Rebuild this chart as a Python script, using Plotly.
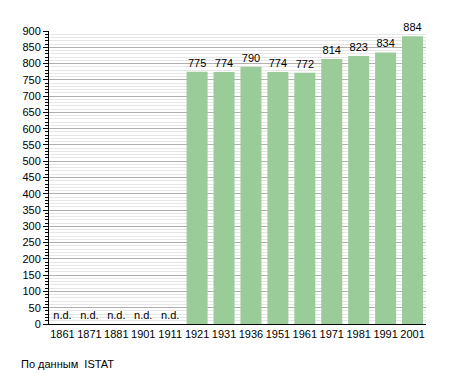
import plotly.graph_objects as go

years = ["1861", "1871", "1881", "1901", "1911", "1921", "1931", "1936",
         "1951", "1961", "1971", "1981", "1991", "2001"]
population = [None, None, None, None, None, 775, 774, 790, 774, 772, 814, 823, 834, 884]

y_vals = [v if v is not None else 0 for v in population]
labels = [str(v) if v is not None else "n.d." for v in population]

fig = go.Figure()
fig.add_trace(go.Bar(
    x=years, y=y_vals, text=labels, textposition="outside",
    marker=dict(color="#99cc99", line=dict(width=0)),
    textfont=dict(family="Liberation Sans, Arial", size=11, color="#000"),
    cliponaxis=False, hoverinfo="skip",
))

fig.update_layout(
    width=455, height=373,
    margin=dict(l=49, r=29, t=31, b=49),
    paper_bgcolor="white", plot_bgcolor="white",
    showlegend=False, bargap=0.22,
    font=dict(family="Liberation Sans, Arial", size=11, color="#000"),
    xaxis=dict(type="category", showline=True, linecolor="#000", linewidth=1,
               ticks="", showgrid=False, tickfont=dict(size=11)),
    yaxis=dict(range=[0, 900], dtick=50, showline=True, linecolor="#000", linewidth=1,
               ticks="outside", ticklen=5, tickcolor="#000",
               gridcolor="#b0b0b0", gridwidth=1, zeroline=False,
               minor=dict(dtick=10, ticks="outside", ticklen=3, tickcolor="#000",
                          showgrid=True, gridcolor="#e6e6e6", gridwidth=1),
               tickfont=dict(size=11)),
    annotations=[dict(text="По данным  ISTAT", xref="paper", yref="paper",
                      x=-0.08, y=-0.135, xanchor="left", yanchor="middle",
                      showarrow=False, font=dict(size=11))],
)

fig.write_html("out.html", config={"displayModeBar": False},
               post_script="document.body.style.margin='0';")
